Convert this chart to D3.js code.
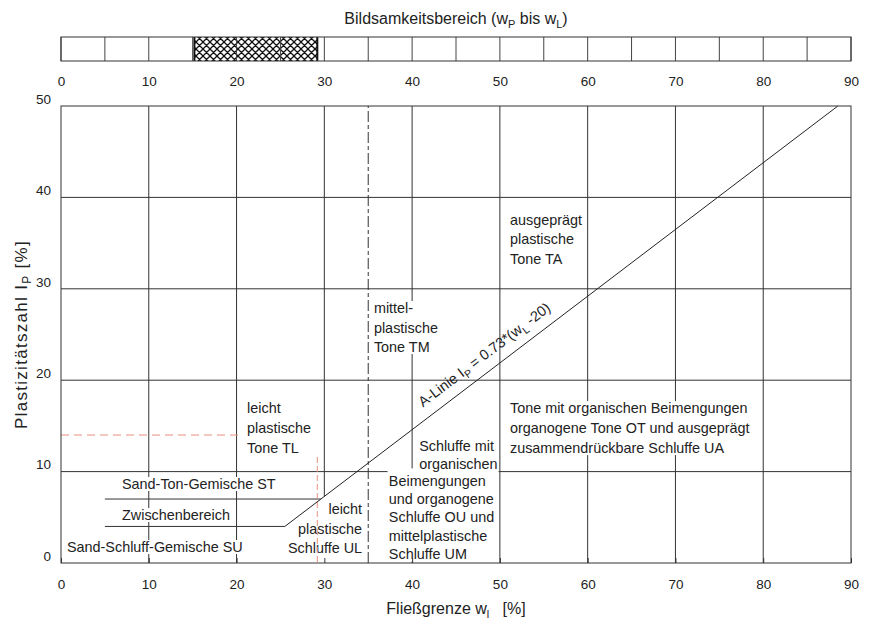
<!DOCTYPE html>
<html>
<head>
<meta charset="utf-8">
<script src="https://cdn.jsdelivr.net/npm/d3@7"></script>
<style>
  body { margin: 0; background: #fff; }
  svg text { font-family: "Liberation Sans", Arial, Helvetica, sans-serif; fill: #222; white-space: pre; }
</style>
</head>
<body>
<svg id="chart" width="871" height="619"></svg>
<script>
// tick values
var wlTicks = [0, 10, 20, 30, 40, 50, 60, 70, 80, 90];
var ipTicks = [0, 10, 20, 30, 40, 50];
// cells of the top bar (start of each 5% cell)
var barCells = [0, 5, 10, 15, 20, 25, 30, 35, 40, 45, 50, 55, 60, 65, 70, 75, 80, 85, 90];

// the sample: plastic range wP..wL and Ip
var sampleWP = 15.2;
var sampleWL = 29.2;
var sampleIpLine = [{ wl: 0, ip: 14 }, { wl: 20.5, ip: 14 }];
var sampleWlLine = [{ wl: 29.2, ip: 11.6 }, { wl: 29.2, ip: 0 }];

// grid
var vGrid = [10, 20, 40, 50, 60, 70, 80];
var hGrid = [10, 20, 30, 40];
var x30Line = [{ wl: 30, ip: 7.3 }, { wl: 30, ip: 50 }];
var tmBoundary = [{ wl: 35, ip: 0 }, { wl: 35, ip: 50 }];

// A-line Ip = 0.73*(wL-20) and the lower boundaries
var aLine = [{ wl: 25.5, ip: 4 }, { wl: 88.5, ip: 50 }];
var stLine = [{ wl: 5, ip: 7 }, { wl: 29.6, ip: 7 }];
var suLine = [{ wl: 5, ip: 4 }, { wl: 25.5, ip: 4 }];

// region labels (anchor in wL / Ip units)
var regionLabels = [
  { lines: ["ausgeprägt", "plastische", "Tone TA"], wl: 51.15, ip: 37.0, lh: 19.5 },
  { lines: ["mittel-", "plastische", "Tone TM"], wl: 35.65, ip: 27.35, lh: 19.5, mask: true },
  { lines: ["leicht", "plastische", "Tone TL"], wl: 21.2, ip: 16.4, lh: 20 },
  { lines: ["Schluffe mit", "organischen"], wl: 40.8, ip: 12.25, lh: 18 },
  { lines: ["Beimengungen", "und organogene", "Schluffe OU und", "mittelplastische", "Schluffe UM"], wl: 37.35, ip: 8.42, lh: 18.2, box: [37.2, 49.85, 0.15, 10.35] },
  { lines: ["Tone mit organischen Beimengungen", "organogene Tone OT und ausgeprägt", "zusammendrückbare Schluffe UA"], wl: 51.15, ip: 16.4, lh: 20, mask: true },
  { lines: ["leicht", "plastische", "Schluffe UL"], wl: 34.3, ip: 5.36, lh: 19.5, anchor: "end" },
  { lines: ["Sand-Ton-Gemische ST"], wl: 6.95, ip: 8.1, mask: true },
  { lines: ["Zwischenbereich"], wl: 6.95, ip: 4.7, mask: true },
  { lines: ["Sand-Schluff-Gemische SU"], wl: 0.68, ip: 1.2, mask: true }
];
var aLabelAt = 42;

var svg = d3.select("#chart");
var x = d3.scaleLinear().domain([0, 90]).range([61, 851]);
var y = d3.scaleLinear().domain([0, 50]).range([563, 106]);
var barTop = 37, barBottom = 61;
var lineGen = d3.line().x(function (d) { return x(d.wl); }).y(function (d) { return y(d.ip); });

// hatch pattern
var pat = svg.append("defs").append("pattern")
  .attr("id", "hatch").attr("patternUnits", "userSpaceOnUse")
  .attr("width", 7).attr("height", 7);
pat.append("path")
  .attr("d", "M-1,1L1,-1M0,7L7,0M6,8L8,6M-1,6L1,8M0,0L7,7M6,-1L8,1")
  .attr("stroke", "#111").attr("stroke-width", 1.3);

// title
var title = svg.append("text").attr("x", x(45)).attr("y", 24)
  .attr("text-anchor", "middle").attr("font-size", 16);
title.append("tspan").text("Bildsamkeitsbereich (w");
title.append("tspan").attr("dy", 4).attr("font-size", 11).text("P");
title.append("tspan").attr("dy", -4).text(" bis w");
title.append("tspan").attr("dy", 4).attr("font-size", 11).text("L");
title.append("tspan").attr("dy", -4).text(")");

// top bar
var bar = svg.append("g");
bar.append("rect")
  .attr("x", x(sampleWP)).attr("y", barTop)
  .attr("width", x(sampleWL) - x(sampleWP)).attr("height", barBottom - barTop)
  .attr("fill", "url(#hatch)");
bar.selectAll("line.cell").data(barCells).join("line")
  .attr("class", "cell")
  .attr("x1", function (d) { return x(d); }).attr("x2", function (d) { return x(d); })
  .attr("y1", barTop).attr("y2", barBottom)
  .attr("stroke", "#444");
bar.selectAll("line.edge").data([sampleWP, sampleWL]).join("line")
  .attr("class", "edge")
  .attr("x1", function (d) { return x(d); }).attr("x2", function (d) { return x(d); })
  .attr("y1", barTop).attr("y2", barBottom)
  .attr("stroke", "#111").attr("stroke-width", 2);
bar.append("rect")
  .attr("x", x(0)).attr("y", barTop)
  .attr("width", x(90) - x(0)).attr("height", barBottom - barTop)
  .attr("fill", "none").attr("stroke", "#333");

svg.append("g").attr("transform", "translate(0," + barBottom + ")")
  .call(d3.axisBottom(x).tickValues(wlTicks).tickSize(0).tickPadding(15))
  .attr("font-size", 13.5)
  .call(function (g) { g.select(".domain").remove(); });

// grid
var grid = svg.append("g").attr("stroke", "#333").attr("stroke-width", 1).attr("fill", "none");
grid.selectAll("line.v").data(vGrid).join("line")
  .attr("class", "v")
  .attr("x1", function (d) { return x(d); }).attr("x2", function (d) { return x(d); })
  .attr("y1", y(0)).attr("y2", y(50));
grid.selectAll("line.h").data(hGrid).join("line")
  .attr("class", "h")
  .attr("x1", x(0)).attr("x2", x(90))
  .attr("y1", function (d) { return y(d); }).attr("y2", function (d) { return y(d); });
grid.append("path").attr("d", lineGen(x30Line));
grid.append("path").attr("d", lineGen(stLine));
grid.append("path").attr("d", lineGen(suLine));
grid.append("path").attr("d", lineGen(tmBoundary)).attr("stroke-dasharray", "11,3,4,3");

// region labels, some with white backing (masks go in a layer under all text)
var maskG = svg.append("g").attr("fill", "#fff");
var labelG = svg.append("g").attr("font-size", 14.4);
regionLabels.forEach(function (lab) {
  var t = labelG.append("text")
    .attr("x", x(lab.wl)).attr("y", y(lab.ip))
    .attr("text-anchor", lab.anchor || "start");
  lab.lines.forEach(function (s, i) {
    t.append("tspan").attr("x", x(lab.wl)).attr("dy", i ? lab.lh : 0).text(s);
  });
  if (lab.mask) {
    var b = t.node().getBBox();
    maskG.append("rect")
      .attr("x", b.x - 1).attr("y", b.y + 1)
      .attr("width", b.width + 2).attr("height", b.height - 2);
  }
  if (lab.box) {
    maskG.append("rect")
      .attr("x", x(lab.box[0])).attr("y", y(lab.box[3]))
      .attr("width", x(lab.box[1]) - x(lab.box[0]))
      .attr("height", y(lab.box[2]) - y(lab.box[3]));
  }
});

// sample (red dashed)
svg.append("path").attr("d", lineGen(sampleIpLine))
  .attr("fill", "none").attr("stroke", "#e8907c").attr("stroke-width", 1)
  .attr("stroke-dasharray", "8,5");
svg.append("path").attr("d", lineGen(sampleWlLine))
  .attr("fill", "none").attr("stroke", "#e8907c").attr("stroke-width", 1)
  .attr("stroke-dasharray", "6,3");

// A-line
svg.append("path").attr("d", lineGen(aLine))
  .attr("fill", "none").attr("stroke", "#222").attr("stroke-width", 1);

var p0 = [x(aLine[0].wl), y(aLine[0].ip)], p1 = [x(aLine[1].wl), y(aLine[1].ip)];
var ang = Math.atan2(p1[1] - p0[1], p1[0] - p0[0]) * 180 / Math.PI;
var tPos = (aLabelAt - aLine[0].wl) / (aLine[1].wl - aLine[0].wl);
var lx = p0[0] + (p1[0] - p0[0]) * tPos, ly = p0[1] + (p1[1] - p0[1]) * tPos;
var aLabel = svg.append("text")
  .attr("transform", "translate(" + lx + "," + ly + ") rotate(" + ang + ")")
  .attr("y", -11).attr("font-size", 14.5);
aLabel.append("tspan").text("A-Linie I");
aLabel.append("tspan").attr("dy", 4).attr("font-size", 10.5).text("P");
aLabel.append("tspan").attr("dy", -4).text(" = 0.73*(w");
aLabel.append("tspan").attr("dy", 4).attr("font-size", 10.5).text("L");
aLabel.append("tspan").attr("dy", -4).text(" -20)");

// frame
svg.append("rect")
  .attr("x", x(0)).attr("y", y(50))
  .attr("width", x(90) - x(0)).attr("height", y(0) - y(50))
  .attr("fill", "none").attr("stroke", "#333");

// axes
svg.append("g").attr("transform", "translate(0," + y(0) + ")")
  .call(d3.axisBottom(x).tickValues(wlTicks).tickSize(-5).tickPadding(16))
  .attr("font-size", 13.5)
  .call(function (g) { g.select(".domain").remove(); g.selectAll("line").attr("stroke", "#333"); });

svg.append("g").attr("transform", "translate(" + x(0) + ",0)")
  .call(d3.axisLeft(y).tickValues(ipTicks).tickSize(0).tickPadding(10))
  .attr("font-size", 13.5)
  .call(function (g) { g.select(".domain").remove(); g.selectAll("text").attr("dy", "-0.2em"); });

// axis titles
var xt = svg.append("text").attr("x", x(45)).attr("y", 614)
  .attr("text-anchor", "middle").attr("font-size", 16);
xt.append("tspan").text("Fließgrenze w");
xt.append("tspan").attr("dy", 4).attr("font-size", 11).text("l");
xt.append("tspan").attr("dy", -4).text("   [%]");

var yt = svg.append("text")
  .attr("transform", "translate(27," + ((y(0) + y(50)) / 2) + ") rotate(-90)")
  .attr("text-anchor", "middle").attr("font-size", 17).attr("letter-spacing", 1.3);
yt.append("tspan").text("Plastizitätszahl I");
yt.append("tspan").attr("dy", 4).attr("font-size", 12).text("P");
yt.append("tspan").attr("dy", -4).text(" [%]");
</script>
</body>
</html>
